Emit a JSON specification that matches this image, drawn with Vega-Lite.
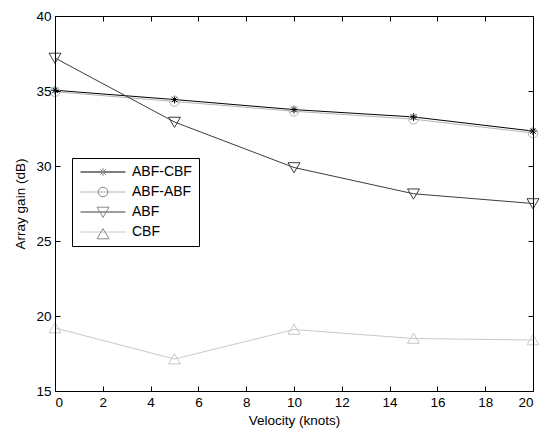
{
  "$schema": "https://vega.github.io/schema/vega-lite/v6.json",
  "width": 478,
  "height": 375,
  "autosize": "none",
  "padding": {"left": 55, "top": 16, "right": 8, "bottom": 40},
  "background": "white",
  "config": {
    "view": {"stroke": "black", "strokeWidth": 1},
    "font": "Liberation Sans",
    "axis": {
      "grid": false,
      "domainColor": "black",
      "tickColor": "black",
      "labelColor": "black",
      "titleColor": "black",
      "labelFont": "Liberation Sans",
      "titleFont": "Liberation Sans",
      "labelFontSize": 13.5,
      "titleFontSize": 13.5,
      "titleFontWeight": "normal"
    }
  },
  "resolve": {"axis": {"x": "independent", "y": "independent"}},
  "data": {
    "values": [
      {"v": 0, "g": 35.05, "s": "ABF-CBF"},
      {"v": 5, "g": 34.43, "s": "ABF-CBF"},
      {"v": 10, "g": 33.76, "s": "ABF-CBF"},
      {"v": 15, "g": 33.27, "s": "ABF-CBF"},
      {"v": 20, "g": 32.33, "s": "ABF-CBF"},
      {"v": 0, "g": 34.95, "s": "ABF-ABF"},
      {"v": 5, "g": 34.3, "s": "ABF-ABF"},
      {"v": 10, "g": 33.65, "s": "ABF-ABF"},
      {"v": 15, "g": 33.12, "s": "ABF-ABF"},
      {"v": 20, "g": 32.2, "s": "ABF-ABF"},
      {"v": 0, "g": 37.2, "s": "ABF"},
      {"v": 5, "g": 32.93, "s": "ABF"},
      {"v": 10, "g": 29.9, "s": "ABF"},
      {"v": 15, "g": 28.15, "s": "ABF"},
      {"v": 20, "g": 27.5, "s": "ABF"},
      {"v": 0, "g": 19.2, "s": "CBF"},
      {"v": 5, "g": 17.13, "s": "CBF"},
      {"v": 10, "g": 19.1, "s": "CBF"},
      {"v": 15, "g": 18.5, "s": "CBF"},
      {"v": 20, "g": 18.4, "s": "CBF"}
    ]
  },
  "layer": [
    {
      "mark": {"type": "line", "strokeWidth": 1},
      "encoding": {
        "x": {"field": "v", "type": "quantitative", "scale": {"domain": [0, 20], "nice": false, "zero": false},
              "axis": {"orient": "bottom", "title": "Velocity (knots)", "values": [0,2,4,6,8,10,12,14,16,18,20], "titlePadding": 5, "tickSize": -5, "tickWidth": 1, "labelPadding": 9, "zindex": 1}},
        "y": {"field": "g", "type": "quantitative", "scale": {"domain": [15, 40], "nice": false, "zero": false},
              "axis": {"orient": "left", "title": "Array gain (dB)", "values": [15,20,25,30,35,40], "titlePadding": 8, "tickSize": -5, "tickWidth": 1, "labelPadding": 9, "zindex": 1}},
        "color": {"field": "s", "type": "nominal",
                  "scale": {"domain": ["ABF-CBF", "ABF-ABF", "ABF", "CBF"], "range": ["#000000", "#b4b4b4", "#3c3c3c", "#c8c8c8"]},
                  "legend": {
                    "orient": "none",
                    "legendX": 17,
                    "legendY": 142,
                    "title": null,
                    "symbolType": "M-3.75,0H3.75",
                    "symbolSize": 144,
                    "symbolStrokeWidth": 1,
                    "symbolOpacity": 1,
                    "labelFont": "Liberation Sans",
                    "labelFontSize": 14,
                    "labelColor": "black",
                    "padding": 7,
                    "rowPadding": 6,
                    "strokeColor": "black",
                    "symbolOffset": 17,
                    "labelOffset": 22
                  }},
        "detail": {"field": "s"}
      }
    },
    {
      "mark": {"type": "point", "filled": false, "strokeWidth": 1, "size": 144, "opacity": 1},
      "encoding": {
        "x": {"field": "v", "type": "quantitative",
              "axis": {"orient": "top", "title": null, "labels": false, "values": [0,2,4,6,8,10,12,14,16,18,20], "tickSize": -5, "tickWidth": 1, "zindex": 1}},
        "y": {"field": "g", "type": "quantitative",
              "axis": {"orient": "right", "title": null, "labels": false, "values": [15,20,25,30,35,40], "tickSize": -5, "tickWidth": 1, "zindex": 1}},
        "stroke": {"field": "s", "type": "nominal", "sort": ["ABF-CBF", "ABF-ABF", "ABF", "CBF"],
                   "scale": {"range": ["#000000", "#b4b4b4", "#3c3c3c", "#c8c8c8"]}},
        "shape": {"field": "s", "type": "nominal", "sort": ["ABF-CBF", "ABF-ABF", "ABF", "CBF"],
                  "scale": {"range": [
                              "M-0.65,0H0.65M0,-0.65V0.65M-0.46,-0.46L0.46,0.46M-0.46,0.46L0.46,-0.46",
                              "M0.8,0A0.8,0.8 0 1,1 -0.8,0A0.8,0.8 0 1,1 0.8,0Z",
                              "M-1,-0.8L1,-0.8L0,0.9Z",
                              "M-1,0.8L1,0.8L0,-0.9Z"
                            ]},
                  "legend": {
                    "orient": "none",
                    "legendX": 17,
                    "legendY": 142,
                    "title": null,
                    "symbolSize": 144,
                    "symbolStrokeWidth": 1,
                    "symbolOpacity": 1,
                    "symbolFillColor": "white",
                    "labelFont": "Liberation Sans",
                    "labelFontSize": 14,
                    "labelColor": "transparent",
                    "padding": 7,
                    "rowPadding": 6,
                    "symbolOffset": 17,
                    "labelOffset": 22
                  }}
      }
    }
  ]
}
